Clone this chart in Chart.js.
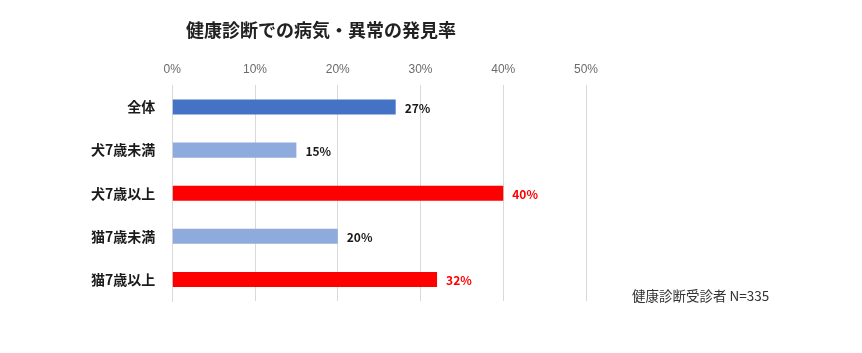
<!DOCTYPE html>
<html>
<head>
<meta charset="utf-8">
<script src="https://cdn.jsdelivr.net/npm/chart.js@4"></script>
<style>
  html, body { margin: 0; padding: 0; background: #fff; }
  #wrap { width: 862px; height: 353px; position: relative; }
</style>
</head>
<body>
<div id="wrap"><canvas id="graph"></canvas></div>
<script>
// 健康診断での病気・異常の発見率
const categories = ['全体', '犬7歳未満', '犬7歳以上', '猫7歳未満', '猫7歳以上'];
const rates = [27, 15, 40, 20, 32];
const barColors = ['#4472C4', '#8FAADC', '#FF0000', '#8FAADC', '#FF0000'];
const labelColors = ['#1a1a1a', '#1a1a1a', '#FF0000', '#1a1a1a', '#FF0000'];
const titleText = '健康診断での病気・異常の発見率';
const noteText = '健康診断受診者 N=335';

const jp = "'Noto Sans CJK JP', 'Noto Sans', sans-serif";

// value labels at bar ends + title + footnote
const extras = {
    id: 'extras',
    afterDatasetsDraw(chart) {
        const ctx = chart.ctx;
        const meta = chart.getDatasetMeta(0);
        ctx.save();
        ctx.font = 'bold 12px ' + jp;
        ctx.textBaseline = 'middle';
        ctx.textAlign = 'left';
        meta.data.forEach((bar, i) => {
            ctx.fillStyle = labelColors[i];
            ctx.fillText(rates[i] + '%', bar.x + 9, bar.y + 1);
        });

        ctx.fillStyle = '#222';
        ctx.font = 'bold 18px ' + jp;
        ctx.fillText(titleText, 186, 30);

        ctx.fillStyle = '#333';
        ctx.font = '13.5px ' + jp;
        ctx.fillText(noteText, 632, 296);
        ctx.restore();
    }
};

const ct1 = document.getElementById('graph').getContext('2d');
const myChart = new Chart(ct1, {
    type: 'bar',
    data: {
        labels: categories,
        datasets: [{
            data: rates,
            backgroundColor: barColors,
            borderWidth: 0,
            barPercentage: 0.7,
            categoryPercentage: 0.5
        }]
    },
    options: {
        responsive: true,
        maintainAspectRatio: false,
        animation: false,
        indexAxis: 'y',
        layout: {
            padding: { top: 53, right: 276, bottom: 52, left: 74 }
        },
        plugins: {
            legend: { display: false },
            tooltip: { enabled: false }
        },
        scales: {
            x: {
                position: 'top',
                min: 0,
                max: 50,
                ticks: {
                    stepSize: 10,
                    color: '#6b6b6b',
                    font: { family: "'Liberation Sans', sans-serif", size: 12 },
                    padding: 9,
                    callback: v => v + '%'
                },
                grid: {
                    color: '#d9d9d9',
                    lineWidth: 1,
                    drawTicks: false
                },
                border: { display: false }
            },
            y: {
                ticks: {
                    color: '#1a1a1a',
                    font: { family: jp, size: 14, weight: 'bold' },
                    padding: 17
                },
                grid: { display: false, drawTicks: false },
                border: { display: true, color: '#d9d9d9' }
            }
        }
    },
    plugins: [extras]
});
</script>
</body>
</html>
